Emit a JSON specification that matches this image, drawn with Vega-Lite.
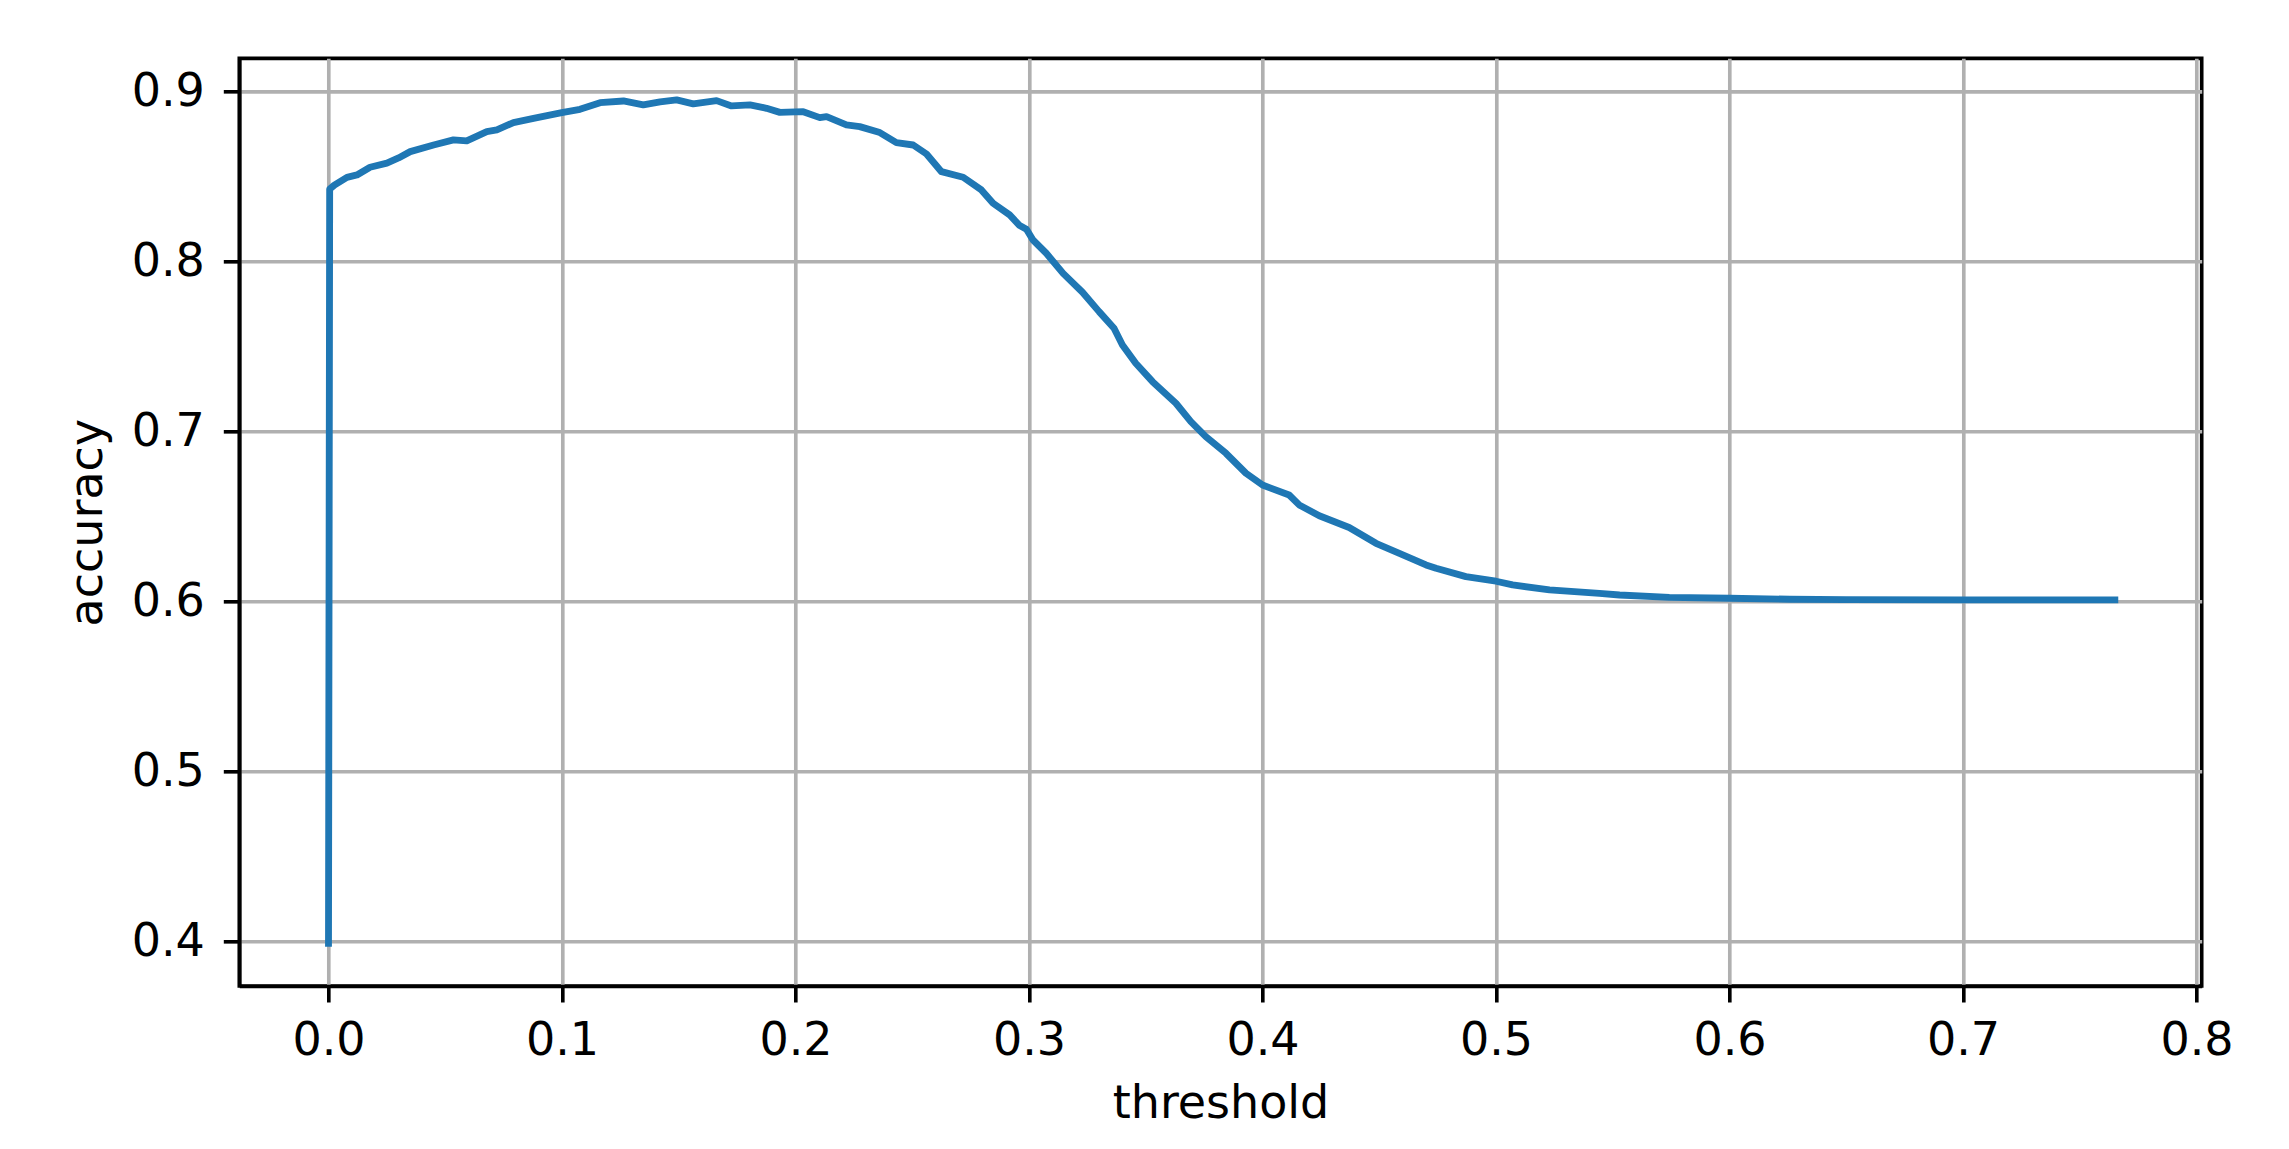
{
  "$schema": "https://vega.github.io/schema/vega-lite/v6.json",
  "autosize": {"type": "none"},
  "padding": {"left": 239.3, "top": 58.3, "right": 87.3, "bottom": 163},
  "width": 1962.4,
  "height": 927.7,
  "background": "white",
  "config": {
    "font": "DejaVu Sans",
    "view": {"stroke": "black", "strokeWidth": 3.65},
    "axis": {
      "labelFont": "DejaVu Sans",
      "titleFont": "DejaVu Sans",
      "labelFontSize": 46,
      "titleFontSize": 46,
      "labelColor": "black",
      "titleColor": "black",
      "titleFontWeight": "normal",
      "domainColor": "black",
      "domainWidth": 3.65,
      "tickColor": "black",
      "tickWidth": 3.65,
      "tickSize": 16,
      "gridColor": "#b0b0b0",
      "gridWidth": 3.65,
      "gridOpacity": 1
    }
  },
  "data": {
    "values": [
      {"threshold": 0.0, "accuracy": 0.399},
      {"threshold": 0.0005, "accuracy": 0.8426},
      {"threshold": 0.0025, "accuracy": 0.845},
      {"threshold": 0.0079, "accuracy": 0.8496},
      {"threshold": 0.0122, "accuracy": 0.851},
      {"threshold": 0.0178, "accuracy": 0.8555},
      {"threshold": 0.025, "accuracy": 0.8579},
      {"threshold": 0.03, "accuracy": 0.861},
      {"threshold": 0.035, "accuracy": 0.8647},
      {"threshold": 0.045, "accuracy": 0.8686},
      {"threshold": 0.0535, "accuracy": 0.8716},
      {"threshold": 0.0592, "accuracy": 0.871},
      {"threshold": 0.0678, "accuracy": 0.8765},
      {"threshold": 0.0721, "accuracy": 0.8775},
      {"threshold": 0.0792, "accuracy": 0.8818},
      {"threshold": 0.0878, "accuracy": 0.8843},
      {"threshold": 0.0999, "accuracy": 0.8876},
      {"threshold": 0.1077, "accuracy": 0.8896},
      {"threshold": 0.1163, "accuracy": 0.8935},
      {"threshold": 0.1263, "accuracy": 0.8945},
      {"threshold": 0.1348, "accuracy": 0.8922},
      {"threshold": 0.142, "accuracy": 0.894},
      {"threshold": 0.1491, "accuracy": 0.8951},
      {"threshold": 0.1562, "accuracy": 0.8928},
      {"threshold": 0.1662, "accuracy": 0.8947},
      {"threshold": 0.1726, "accuracy": 0.8916},
      {"threshold": 0.1805, "accuracy": 0.8922},
      {"threshold": 0.1876, "accuracy": 0.8902},
      {"threshold": 0.1933, "accuracy": 0.8878},
      {"threshold": 0.2033, "accuracy": 0.8882},
      {"threshold": 0.2104, "accuracy": 0.8847},
      {"threshold": 0.2133, "accuracy": 0.8853},
      {"threshold": 0.2218, "accuracy": 0.8804},
      {"threshold": 0.2275, "accuracy": 0.8794},
      {"threshold": 0.2361, "accuracy": 0.8759},
      {"threshold": 0.2432, "accuracy": 0.87},
      {"threshold": 0.2504, "accuracy": 0.8686},
      {"threshold": 0.2561, "accuracy": 0.8633},
      {"threshold": 0.2625, "accuracy": 0.8529},
      {"threshold": 0.2718, "accuracy": 0.8496},
      {"threshold": 0.2796, "accuracy": 0.8422},
      {"threshold": 0.2846, "accuracy": 0.8343},
      {"threshold": 0.2917, "accuracy": 0.8275},
      {"threshold": 0.296, "accuracy": 0.8212},
      {"threshold": 0.2989, "accuracy": 0.819},
      {"threshold": 0.3017, "accuracy": 0.8127},
      {"threshold": 0.3074, "accuracy": 0.8049},
      {"threshold": 0.3146, "accuracy": 0.7931},
      {"threshold": 0.3229, "accuracy": 0.782},
      {"threshold": 0.33, "accuracy": 0.7706},
      {"threshold": 0.3364, "accuracy": 0.7608},
      {"threshold": 0.34, "accuracy": 0.751},
      {"threshold": 0.3457, "accuracy": 0.7402},
      {"threshold": 0.3529, "accuracy": 0.7294},
      {"threshold": 0.3629, "accuracy": 0.7167},
      {"threshold": 0.3693, "accuracy": 0.7059},
      {"threshold": 0.3757, "accuracy": 0.6971},
      {"threshold": 0.3843, "accuracy": 0.6873},
      {"threshold": 0.3929, "accuracy": 0.6755},
      {"threshold": 0.4, "accuracy": 0.6686},
      {"threshold": 0.4114, "accuracy": 0.6627},
      {"threshold": 0.4157, "accuracy": 0.6569},
      {"threshold": 0.4243, "accuracy": 0.6505},
      {"threshold": 0.4371, "accuracy": 0.6436},
      {"threshold": 0.4486, "accuracy": 0.6343},
      {"threshold": 0.4586, "accuracy": 0.6284},
      {"threshold": 0.47, "accuracy": 0.6216},
      {"threshold": 0.4743, "accuracy": 0.6196},
      {"threshold": 0.4871, "accuracy": 0.6147},
      {"threshold": 0.5, "accuracy": 0.612},
      {"threshold": 0.5071, "accuracy": 0.6098},
      {"threshold": 0.5229, "accuracy": 0.6069},
      {"threshold": 0.5443, "accuracy": 0.6049},
      {"threshold": 0.5529, "accuracy": 0.6039},
      {"threshold": 0.5742, "accuracy": 0.6025},
      {"threshold": 0.6, "accuracy": 0.602},
      {"threshold": 0.6258, "accuracy": 0.6014},
      {"threshold": 0.65, "accuracy": 0.6012},
      {"threshold": 0.7, "accuracy": 0.601},
      {"threshold": 0.765, "accuracy": 0.601}
    ]
  },
  "mark": {
    "type": "line",
    "color": "#1f77b4",
    "strokeWidth": 6.85,
    "strokeCap": "square",
    "strokeJoin": "round",
    "clip": true
  },
  "encoding": {
    "x": {
      "field": "threshold",
      "type": "quantitative",
      "title": "threshold",
      "scale": {"domain": [-0.0382, 0.8022], "nice": false, "zero": false},
      "axis": {
        "values": [0, 0.1, 0.2, 0.3, 0.4, 0.5, 0.6, 0.7, 0.8],
        "format": ".1f",
        "labelPadding": 16,
        "titlePadding": 18,
        "labelFlush": false,
        "labelOverlap": false
      }
    },
    "y": {
      "field": "accuracy",
      "type": "quantitative",
      "title": "accuracy",
      "scale": {"domain": [0.3739, 0.9196], "nice": false, "zero": false},
      "axis": {
        "values": [0.4, 0.5, 0.6, 0.7, 0.8, 0.9],
        "format": ".1f",
        "labelPadding": 19,
        "titlePadding": 20,
        "labelFlush": false,
        "labelOverlap": false
      }
    }
  }
}
